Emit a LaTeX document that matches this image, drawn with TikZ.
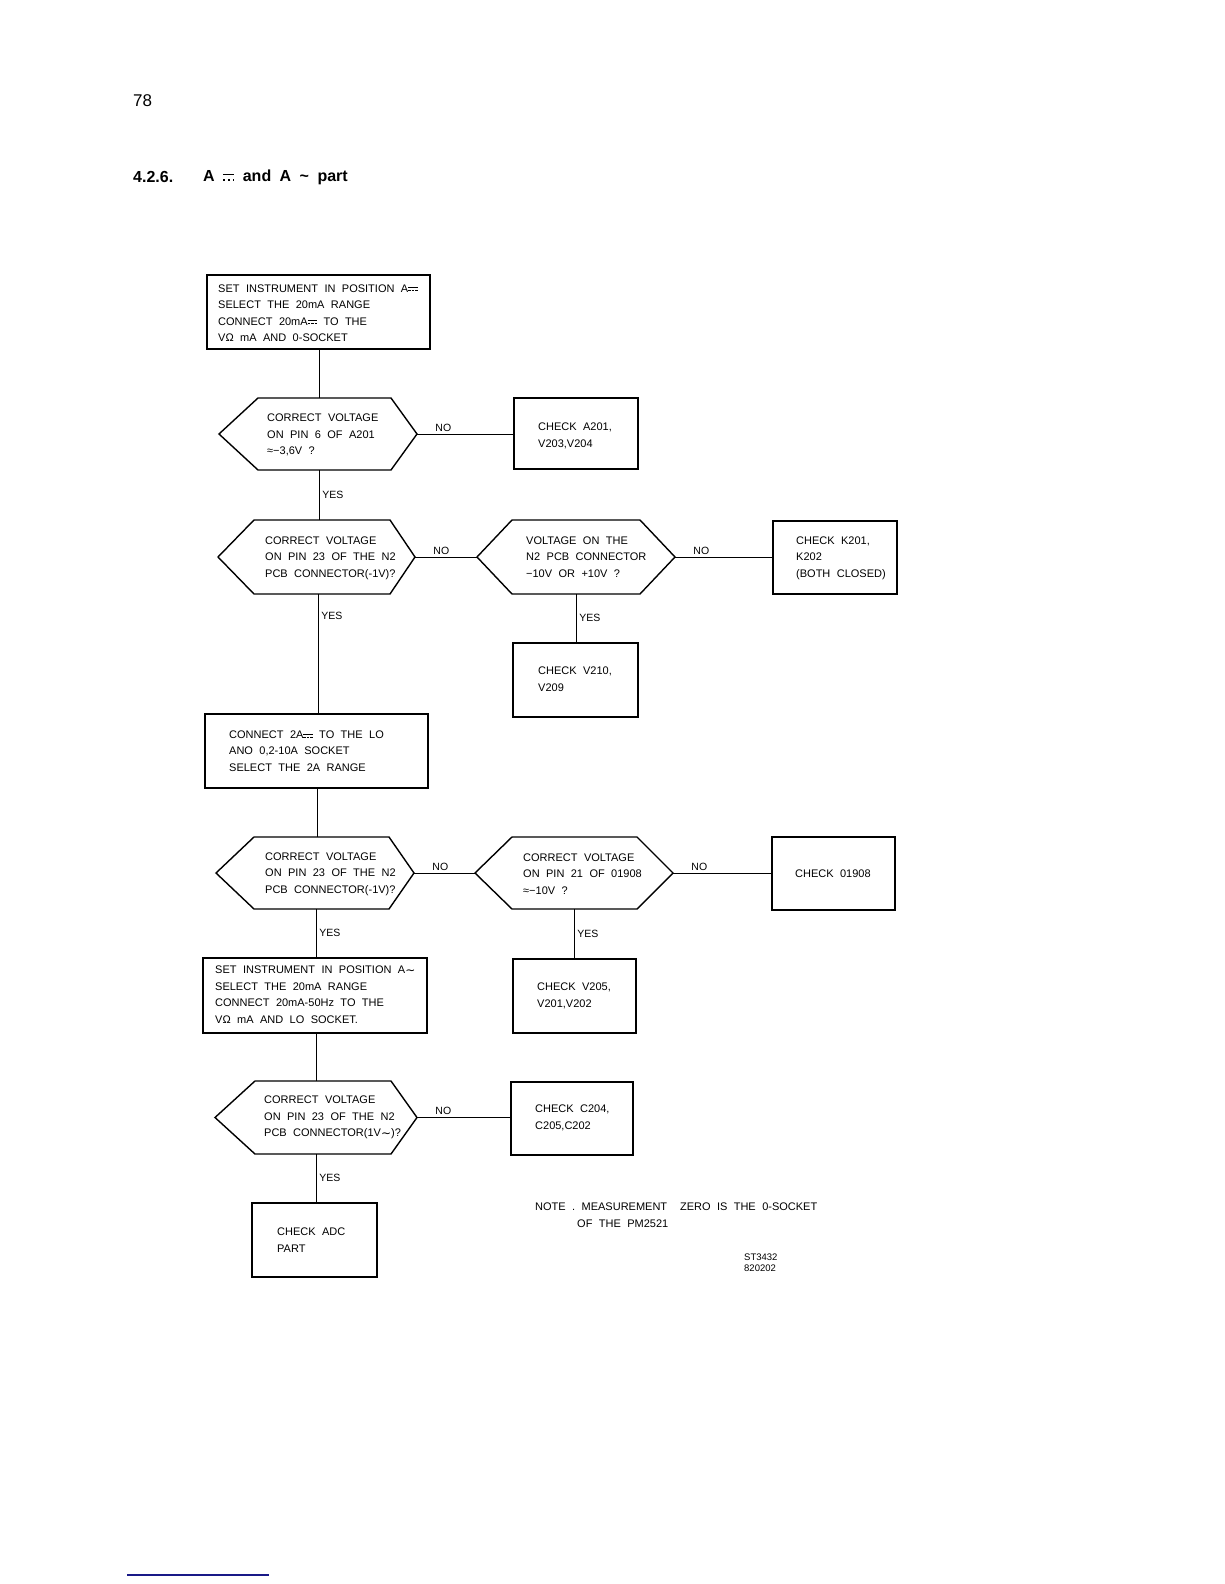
\documentclass[tikz,border=0pt]{standalone}
\usepackage{fontspec}
\setmainfont{Liberation Sans}[WordSpace=2.1]
\newfontfamily\headfont{Liberation Sans}[WordSpace=1.9]
\newfontfamily\djv{DejaVu Sans}
\newcommand\dcsym{\mbox{\rlap{\raisebox{0.36em}{\rule{0.85em}{0.07em}}}\raisebox{0.08em}{\rule{0.22em}{0.07em}\hspace{0.095em}\rule{0.22em}{0.07em}\hspace{0.095em}\rule{0.22em}{0.07em}}}}
\newcommand\dcdots{\mbox{\rlap{\raisebox{0.36em}{\rule{0.7em}{0.08em}}}\raisebox{0.02em}{\rule{0.1em}{0.1em}\hspace{0.2em}\rule{0.1em}{0.1em}\hspace{0.2em}\rule{0.1em}{0.1em}}}}
\newcommand\actil{\raisebox{-0.2ex}{{\djv\fontsize{12}{12}\selectfont ∼}}}
\newcommand\mkbox[5]{\node[box, minimum width={#4-#2}, minimum height={#5-#3}] (#1) at ({(#2+#4)/2},{(#3+#5)/2}) {};}
\newcommand\mkhex[7]{%
  \draw[hexline] (#2,{(#6+#7)/2}) -- (#3,#6) -- (#4,#6) -- (#5,{(#6+#7)/2}) -- (#4,#7) -- (#3,#7) -- cycle;
  \coordinate (#1-w) at (#2,{(#6+#7)/2});
  \coordinate (#1-e) at (#5,{(#6+#7)/2});}
\tikzset{
  hexline/.style={draw, line width=1.4pt, line join=miter},
  box/.style={draw, line width=1.4pt, inner sep=0pt, rectangle},
  txt/.style={inner sep=0pt, align=left, anchor=west, font=\fontsize{11}{16.5}\selectfont},
  lbl/.style={inner sep=0pt, font=\fontsize{10.5}{12}\selectfont},
  conn/.style={line width=0.9pt},
  nolbl/.style={lbl, pos=0, anchor=south west, xshift=18pt, yshift=2pt},
  yeslbl/.style={lbl, anchor=west, xshift=3pt},
}
\begin{document}
\begin{tikzpicture}[x=1pt,y=-1pt]
\useasboundingbox[fill=white] (0,0) rectangle (1224,1584);

% header
\node[inner sep=0pt, anchor=west, font=\headfont\fontsize{17}{20}\selectfont] (pagenum) at (133,101) {78};
\node[inner sep=0pt, anchor=west, font=\headfont\fontsize{16}{19}\selectfont\bfseries] (secnum) at (133,177) {4.2.6.};
\node[inner sep=0pt, anchor=west, font=\headfont\fontsize{16}{19}\selectfont\bfseries] (sectitle) at (203,177) {A \dcdots\ and A \textasciitilde\ part};

% boxes
\mkbox{b1}{207}{275}{430}{349}
\node[txt] (t1) at (218,313) {SET INSTRUMENT IN POSITION A\dcsym\\SELECT THE 20mA RANGE\\CONNECT 20mA\dcsym\ TO THE\\VΩ mA AND 0-SOCKET};
\mkbox{b2}{514}{398}{638}{469}
\node[txt] (t2) at (538,436) {CHECK A201,\\V203,V204};
\mkbox{b3}{773}{521}{897}{594}
\node[txt] (t3) at (796,558) {CHECK K201,\\K202\\(BOTH CLOSED)};
\mkbox{b4}{513}{643}{638}{717}
\node[txt] (t4) at (538,679) {CHECK V210,\\V209};
\mkbox{b5}{205}{714}{428}{788}
\node[txt] (t5) at (229,751) {CONNECT 2A\dcsym\ TO THE LO\\ANO 0,2-10A SOCKET\\SELECT THE 2A RANGE};
\mkbox{b6}{772}{837}{895}{910}
\node[txt] (t6) at (795,874) {CHECK 01908};
\mkbox{b7}{513}{959}{636}{1033}
\node[txt] (t7) at (537,996) {CHECK V205,\\V201,V202};
\mkbox{b8}{203}{958}{427}{1033}
\node[txt] (t8) at (215,994.5) {SET INSTRUMENT IN POSITION A\actil\\SELECT THE 20mA RANGE\\CONNECT 20mA-50Hz TO THE\\VΩ mA AND LO SOCKET.};
\mkbox{b9}{511}{1082}{633}{1155}
\node[txt] (t9) at (535,1118) {CHECK C204,\\C205,C202};
\mkbox{b10}{252}{1203}{377}{1277}
\node[txt] (t10) at (277,1240) {CHECK ADC\\PART};

% hexagons
\mkhex{h1}{219}{258}{391}{417}{398}{470}
\node[txt] (q1) at (267,435) {CORRECT VOLTAGE\\ON PIN 6 OF A201\\≈−3,6V ?};
\mkhex{h2}{218}{254}{390}{415}{520}{594}
\node[txt] (q2) at (265,558) {CORRECT VOLTAGE\\ON PIN 23 OF THE N2\\PCB CONNECTOR(-1V)?};
\mkhex{h3}{477}{512}{640}{675}{520}{594}
\node[txt] (q3) at (526,557) {VOLTAGE ON THE\\N2 PCB CONNECTOR\\−10V OR +10V ?};
\mkhex{h4}{216}{254}{389}{414}{837}{909}
\node[txt] (q4) at (265,874) {CORRECT VOLTAGE\\ON PIN 23 OF THE N2\\PCB CONNECTOR(-1V)?};
\mkhex{h5}{475}{512}{637}{673}{837}{909}
\node[txt] (q5) at (523,874) {CORRECT VOLTAGE\\ON PIN 21 OF 01908\\≈−10V ?};
\mkhex{h7}{215}{255}{391}{417}{1081}{1154}
\node[txt] (q7) at (264,1117.5) {CORRECT VOLTAGE\\ON PIN 23 OF THE N2\\PCB CONNECTOR(1V\actil)?};

% trunk points
\coordinate (h1-n) at (319,398); \coordinate (h1-s) at (319,470);
\coordinate (h2-n) at (319,520); \coordinate (h2-s) at (318,594);
\coordinate (h3-s) at (576,594);
\coordinate (h4-n) at (317,837); \coordinate (h4-s) at (316,909);
\coordinate (h5-s) at (574,909);
\coordinate (h7-n) at (316,1081); \coordinate (h7-s) at (316,1154);

% connectors
\draw[conn] (b1.south -| h1-n) -- (h1-n);
\draw[conn] (h1-e) -- (b2.west |- h1-e) node[nolbl] {NO};
\draw[conn] (h1-s) -- (h2-n) node[yeslbl, midway] {YES};
\draw[conn] (h2-e) -- (h3-w) node[nolbl] {NO};
\draw[conn] (h3-e) -- (b3.west |- h3-e) node[nolbl] {NO};
\draw[conn] (h3-s) -- (h3-s |- b4.north) node[yeslbl, midway] {YES};
\draw[conn] (h2-s) -- (h2-s |- b5.north) node[yeslbl, pos=0.18] {YES};
\draw[conn] (b5.south -| h4-n) -- (h4-n);
\draw[conn] (h4-e) -- (h5-w) node[nolbl] {NO};
\draw[conn] (h5-e) -- (b6.west |- h5-e) node[nolbl] {NO};
\draw[conn] (h5-s) -- (h5-s |- b7.north) node[yeslbl, midway] {YES};
\draw[conn] (h4-s) -- (h4-s |- b8.north) node[yeslbl, midway] {YES};
\draw[conn] (b8.south -| h7-n) -- (h7-n);
\draw[conn] (h7-e) -- (b9.west |- h7-e) node[nolbl] {NO};
\draw[conn] (h7-s) -- (h7-s |- b10.north) node[yeslbl, midway] {YES};

% notes
\node[txt] (note1) at (535,1207) {NOTE . MEASUREMENT\ \ ZERO IS THE 0-SOCKET};
\node[txt] (note2) at (577,1224) {OF THE PM2521};
\node[inner sep=0pt, align=left, anchor=west, font=\fontsize{9.5}{11}\selectfont] (code) at (744,1262.5) {ST3432\\820202};

% bottom rule
\draw[line width=1.5pt, color={rgb,255:red,25;green,25;blue,135}] (127,1575) -- (269,1575);
\end{tikzpicture}
\end{document}
